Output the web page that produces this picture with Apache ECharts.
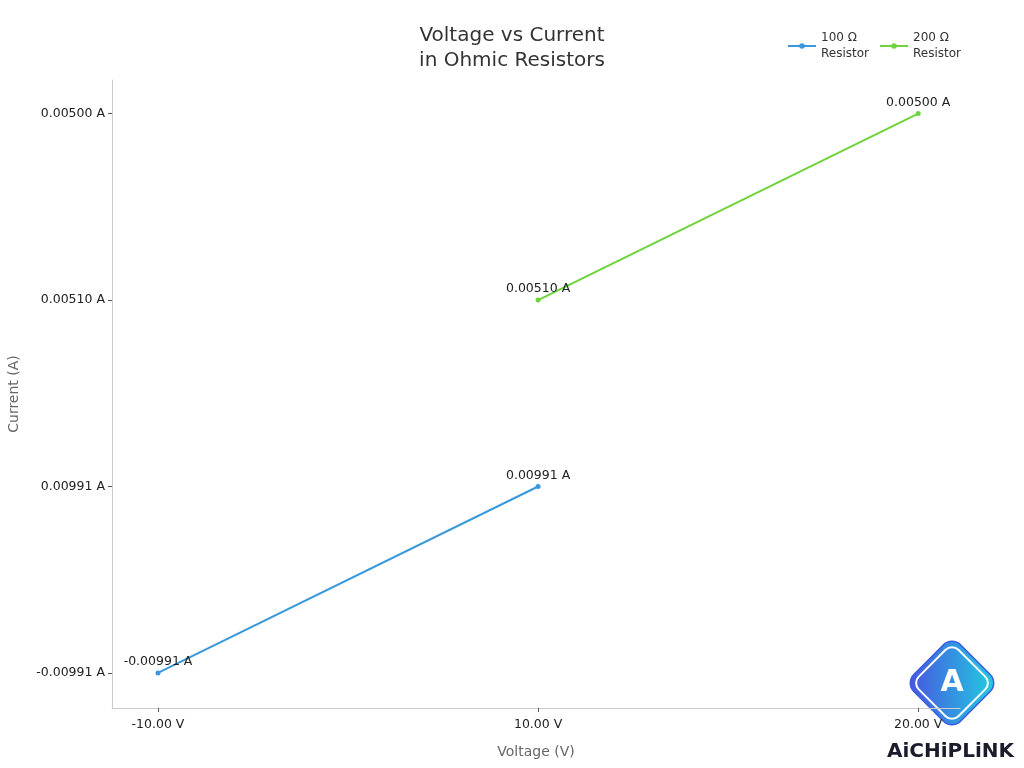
<!DOCTYPE html>
<html>
<head>
<meta charset="utf-8">
<script src="https://cdn.jsdelivr.net/npm/echarts@6/dist/echarts.min.js"></script>
<style>html,body{margin:0;padding:0;background:#fff}#c{width:1024px;height:768px}</style>
</head>
<body>
<div id="c"></div>
<script>
const xCategories = ['-10.00 V', '10.00 V', '20.00 V'];
const yCategories = ['-0.00991 A', '0.00991 A', '0.00510 A', '0.00500 A'];
const series100Name = '100 Ω\nResistor';
const series200Name = '200 Ω\nResistor';
const series100 = [['-10.00 V', '-0.00991 A'], ['10.00 V', '0.00991 A']];
const series200 = [['10.00 V', '0.00510 A'], ['20.00 V', '0.00500 A']];

const toIdx = pts => pts.map(p => [xCategories.indexOf(p[0]), yCategories.indexOf(p[1]), p[1]]);
const xIdx = xCategories.map((_, i) => i);
const yIdx = yCategories.map((_, i) => i);
const FONT = 'DejaVu Sans';

const chart = echarts.init(document.getElementById('c'), null, {renderer: 'canvas'});
const lbl = {
  show: true, position: 'top', distance: 2,
  formatter: p => p.data[2], color: '#222', fontSize: 12.5, fontFamily: FONT
};
chart.setOption({
  animation: false,
  textStyle: {fontFamily: FONT},
  title: {
    text: 'Voltage vs Current\nin Ohmic Resistors',
    left: 'center', top: 18,
    textStyle: {fontSize: 20, fontWeight: 'normal', color: '#333', lineHeight: 25, fontFamily: FONT}
  },
  legend: {
    top: 25, right: 58, itemWidth: 28, itemHeight: 7, itemGap: 10,
    textStyle: {fontSize: 12, color: '#333', lineHeight: 16, fontFamily: FONT},
    data: [series100Name, series200Name]
  },
  grid: {left: 112, right: 64, top: 80, bottom: 60, containLabel: false, outerBoundsMode: 'none'},
  xAxis: {
    type: 'value', min: -0.121, max: 2.11,
    name: 'Voltage (V)', nameLocation: 'middle', nameGap: 37,
    nameTextStyle: {color: '#666', fontSize: 14, fontFamily: FONT},
    splitLine: {show: false},
    axisLine: {show: true, onZero: false, lineStyle: {color: '#ccc'}},
    axisTick: {show: true, length: 4, customValues: xIdx, lineStyle: {color: '#555'}},
    axisLabel: {customValues: xIdx, formatter: v => xCategories[Math.round(v)] || '', color: '#222', fontSize: 12.5, margin: 10}
  },
  yAxis: {
    type: 'value', min: -0.188, max: 3.18,
    name: 'Current (A)', nameLocation: 'middle', nameGap: 91, nameRotate: 90,
    nameTextStyle: {color: '#666', fontSize: 14, fontFamily: FONT},
    splitLine: {show: false},
    axisLine: {show: true, onZero: false, lineStyle: {color: '#ccc'}},
    axisTick: {show: true, length: 4, customValues: yIdx, lineStyle: {color: '#555'}},
    axisLabel: {customValues: yIdx, formatter: v => yCategories[Math.round(v)] || '', color: '#222', fontSize: 12.5, margin: 7}
  },
  series: [
    {name: series100Name, type: 'line', data: toIdx(series100), symbol: 'circle', symbolSize: 5,
     itemStyle: {color: '#3a98dc'}, lineStyle: {width: 2, color: '#3a98dc'}, label: lbl},
    {name: series200Name, type: 'line', data: toIdx(series200), symbol: 'circle', symbolSize: 5,
     itemStyle: {color: '#6dd43c'}, lineStyle: {width: 2, color: '#6dd43c'}, label: lbl}
  ],
  graphic: [
    {type: 'group', x: 952, y: 683, rotation: Math.PI / 4, children: [
      {type: 'rect', shape: {x: -33, y: -33, width: 66, height: 66, r: 12},
       style: {fill: new echarts.graphic.LinearGradient(0, 0, 1, 1, [{offset: 0, color: '#4a4fe0'}, {offset: 1, color: '#1fd3e0'}]),
               stroke: '#3a5ce0', lineWidth: 1.5}},
      {type: 'rect', shape: {x: -28, y: -28, width: 56, height: 56, r: 9},
       style: {fill: 'none', stroke: '#fff', lineWidth: 2}}
    ]},
    {type: 'text', x: 952, y: 683, style: {text: 'A', font: 'bold 30px "DejaVu Sans"', fill: '#fff', align: 'center', verticalAlign: 'middle'}},
    {type: 'text', right: 10, bottom: 6,
     style: {text: 'AiCHiPLiNK', font: 'bold 20px "DejaVu Sans"', fill: '#1b1b2b'}}
  ]
});
</script>
</body>
</html>
